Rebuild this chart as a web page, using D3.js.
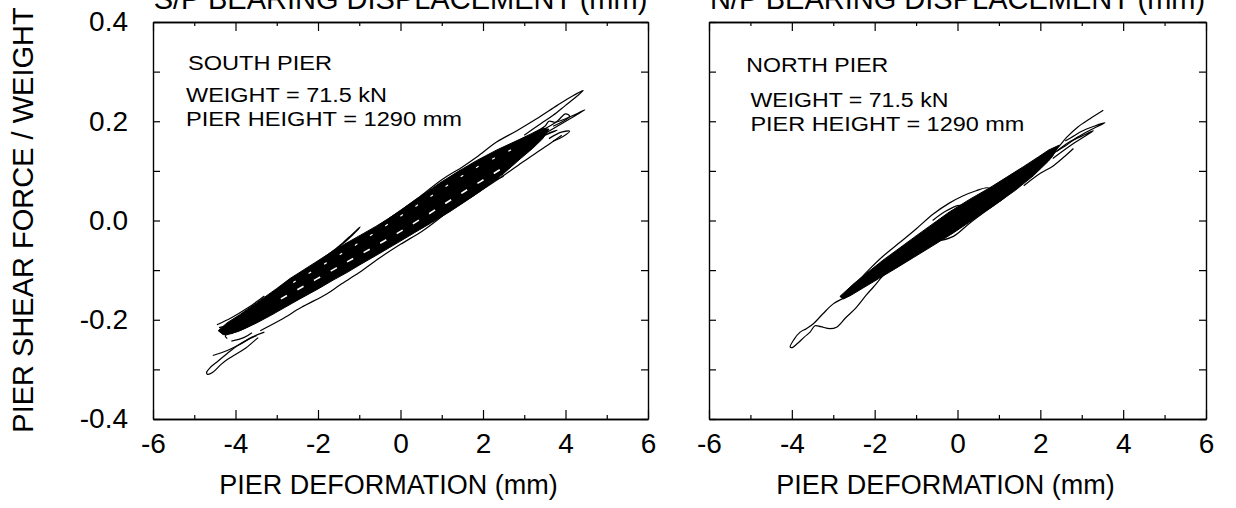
<!DOCTYPE html>
<html><head><meta charset="utf-8">
<script src="https://cdn.jsdelivr.net/npm/d3@7"></script>
<style>
body{margin:0;background:#fff}
svg{display:block}
text{font-family:"Liberation Sans",Arial,Helvetica,sans-serif;fill:#000}
</style>
</head><body>
<svg id="c" width="1236" height="508"></svg>
<script>
// ---------- texts & ticks ----------
const xMajorTicks = [-6,-4,-2,0,2,4,6];
const xTickLabels = ["-6","-4","-2","0","2","4","6"];
const xMinorTicks = [-5,-3,-1,1,3,5];
const yTicks = [-0.4,-0.3,-0.2,-0.1,0.0,0.1,0.2,0.3,0.4];
const yLabelTicks = [-0.4,-0.2,0.0,0.2,0.4];
const yTickLabels = ["-0.4","-0.2","0.0","0.2","0.4"];
const topTitles = ["S/P BEARING DISPLACEMENT (mm)","N/P BEARING DISPLACEMENT (mm)"];
const pierNames = ["SOUTH PIER","NORTH PIER"];
const weightLabel = "WEIGHT = 71.5 kN";
const heightLabel = "PIER HEIGHT = 1290 mm";
const xLabel = "PIER DEFORMATION (mm)";
const yLabel = "PIER SHEAR FORCE / WEIGHT";

// ---------- SOUTH PIER (deformation mm, shear/weight) ----------
const southCore = [
 [-4.42,-0.222],[-4.2,-0.206],[-3.9,-0.19],[-3.49,-0.166],[-3.0,-0.137],[-2.68,-0.117],
 [-2.36,-0.1],[-2.0,-0.081],[-1.63,-0.061],[-1.3,-0.045],[-0.98,-0.03],[-0.6,-0.012],
 [-0.33,0.002],[0.0,0.02],[0.31,0.039],[0.65,0.058],[0.96,0.076],[1.4,0.099],[1.85,0.121],
 [2.33,0.142],[2.9,0.164],[3.2,0.176],[3.45,0.186],[3.6,0.184],
 [3.45,0.165],[3.2,0.145],[2.9,0.124],[2.49,0.094],[2.25,0.078],[1.9,0.057],[1.6,0.04],
 [1.2,0.018],[0.72,-0.006],[0.35,-0.024],[-0.01,-0.042],[-0.5,-0.066],[-0.98,-0.089],
 [-1.3,-0.105],[-1.63,-0.12],[-2.0,-0.138],[-2.44,-0.158],[-2.8,-0.175],[-3.16,-0.192],
 [-3.5,-0.207],[-3.81,-0.219],[-4.1,-0.228],[-4.3,-0.23]
];
const southLoops = [
 [[-4.32,-0.218],[-3.8,-0.19],[-3.0,-0.145],[-2.2,-0.1],[-1.4,-0.058],[-0.6,-0.015],[0.0,0.02],
  [0.47,0.048],[1.0,0.082],[1.5,0.108],[1.85,0.128],[2.33,0.158],[2.8,0.18],[3.3,0.205],
  [3.8,0.232],[4.15,0.25],[4.43,0.262],[4.3,0.252],[4.0,0.232],[3.7,0.212],[3.4,0.195],[3.0,0.172]],
 [[3.0,0.15],[3.4,0.17],[3.8,0.19],[4.15,0.207],[4.47,0.223],[4.3,0.216],[4.0,0.205],
  [3.75,0.198],[3.6,0.2],[3.5,0.19],[3.2,0.175]],
 [[3.5,0.185],[3.8,0.2],[4.0,0.215],[4.1,0.21],[3.9,0.198],[3.7,0.19]],
 [[3.6,0.165],[3.9,0.178],[4.1,0.18],[3.95,0.17],[3.7,0.16]],
 [[-3.4,-0.222],[-2.9,-0.2],[-2.4,-0.175],[-1.79,-0.148],[-1.47,-0.13],[-1.0,-0.105],
  [-0.5,-0.075],[0.0,-0.048],[0.55,-0.02],[1.2,0.02],[1.8,0.052],[2.49,0.09],[3.0,0.12],
  [3.5,0.148],[3.91,0.172]],
 [[-2.1,-0.09],[-1.71,-0.066],[-1.4,-0.045],[-1.2,-0.03],[-0.98,-0.013],[-1.05,-0.02],
  [-1.3,-0.04],[-1.6,-0.06]],
 [[-3.49,-0.232],[-3.7,-0.24],[-3.95,-0.252],[-4.2,-0.268],[-4.45,-0.285],[-4.62,-0.297],
  [-4.70,-0.306],[-4.68,-0.31],[-4.55,-0.306],[-4.35,-0.29],[-4.2,-0.28],[-4.0,-0.27],
  [-3.75,-0.257],[-3.55,-0.243],[-3.45,-0.236]],
 [[-4.55,-0.272],[-4.2,-0.262],[-3.9,-0.25],[-3.6,-0.235],[-3.3,-0.225]],
 [[-4.4,-0.216],[-4.0,-0.205],[-3.6,-0.18]],
 [[-4.2,-0.238],[-4.25,-0.232],[-3.9,-0.222],[-3.5,-0.205]],
 [[-4.1,-0.243],[-3.8,-0.236],[-3.6,-0.226]],
 [[-4.45,-0.21],[-4.1,-0.196],[-3.7,-0.176],[-3.3,-0.152]],
 [[2.0,0.075],[2.3,0.082],[2.5,0.09],[2.35,0.095],[2.1,0.088]],
 [[2.6,0.13],[3.0,0.15],[3.4,0.168],[3.8,0.182],[3.6,0.176],[3.2,0.158],[2.8,0.138]]
];
const southGaps = [
 [[-2.9,-0.158],[-1.5,-0.093],[0,-0.022],[1.5,0.056],[2.6,0.112]],
 [[-2.6,-0.125],[-1.2,-0.055],[0.3,0.025],[1.8,0.105],[3.0,0.155]]
];

// ---------- NORTH PIER ----------
const northCore = [
 [-2.84,-0.153],[-2.5,-0.127],[-2.19,-0.106],[-1.8,-0.08],[-1.39,-0.055],[-1.0,-0.031],
 [-0.6,-0.007],[-0.2,0.017],[0.3,0.043],[0.78,0.066],[1.2,0.088],[1.6,0.109],[1.95,0.128],
 [2.2,0.142],[2.46,0.152],
 [2.3,0.13],[2.2,0.12],[1.83,0.09],[1.4,0.061],[0.86,0.029],[0.4,0.003],[-0.1,-0.025],
 [-0.6,-0.051],[-1.07,-0.075],[-1.5,-0.097],[-1.9,-0.117],[-2.3,-0.137],[-2.6,-0.152],[-2.76,-0.158]
];
const northLoops = [
 [[-2.6,-0.14],[-2.113,-0.097],[-1.8,-0.072],[-1.389,-0.044],[-1.0,-0.017],[-0.585,0.013],
  [-0.2,0.035],[0.139,0.05],[0.45,0.06],[0.704,0.066],[0.86,0.064],[1.0,0.062]],
 [[-0.4,-0.04],[-0.1,-0.032],[0.3,-0.005],[0.7,0.02],[1.1,0.044],[1.3,0.058]],
 [[-2.7,-0.155],[-3.0,-0.168],[-3.25,-0.188],[-3.48,-0.208],[-3.65,-0.218],[-3.8,-0.225],
  [-3.95,-0.24],[-4.04,-0.255],[-3.99,-0.256],[-3.88,-0.249],[-3.7,-0.235],[-3.56,-0.225],
  [-3.44,-0.212],[-3.3,-0.214],[-3.08,-0.218],[-2.92,-0.215],[-2.7,-0.196],[-2.44,-0.175],
  [-2.2,-0.15],[-2.03,-0.134],[-1.75,-0.107],[-1.5,-0.09]],
 [[2.0,0.12],[2.4,0.145],[2.64,0.168],[2.9,0.188],[3.2,0.205],[3.52,0.222]],
 [[2.2,0.13],[2.6,0.15],[2.9,0.168],[3.2,0.182],[3.56,0.197],[3.3,0.19],[3.0,0.18],[2.8,0.17],[2.6,0.16]],
 [[2.3,0.125],[2.8,0.155],[3.28,0.181],[3.0,0.17],[2.7,0.158],[2.4,0.14]],
 [[1.6,0.07],[2.0,0.095],[2.31,0.11],[2.6,0.13],[2.8,0.145]],
 [[-0.6,0.0],[-0.3,0.018],[0.0,0.03],[0.2,0.03],[-0.1,0.015],[-0.4,0.0]]
];

// ---------- drawing ----------
const svg = d3.select("#c");
const FONT = '"Liberation Sans",Arial,Helvetica,sans-serif';
const top0 = 22, bot0 = 419;
const panels = [
  {x0:153, x1:648, core:southCore, loops:southLoops, gaps:southGaps, name:pierNames[0], title:topTitles[0], yLabels:true,
   tx:[-5.15,-5.2,-5.2], ty:[0.304,0.238,0.191], tl:[144,201,276]},
  {x0:709, x1:1206, core:northCore, loops:northLoops, gaps:[], name:pierNames[1], title:topTitles[1], yLabels:false,
   tx:[-5.1,-5.0,-5.0], ty:[0.300,0.228,0.180], tl:[142,198,274]}
];

panels.forEach(p => {
  const x = d3.scaleLinear().domain([-6,6]).range([p.x0,p.x1]);
  const y = d3.scaleLinear().domain([-0.4,0.4]).range([bot0,top0]);
  const g = svg.append("g");

  const styleAxis = sel => {
    sel.attr("font-family", FONT).attr("font-size", 28);
    sel.selectAll("path.domain").attr("stroke","#000").attr("stroke-width",1.4);
    sel.selectAll(".tick line").attr("stroke","#000").attr("stroke-width",1.2);
    sel.selectAll(".tick text").attr("fill","#000");
  };

  g.append("g").attr("transform",`translate(0,${bot0})`)
    .call(d3.axisBottom(x).tickValues(xMajorTicks).tickSizeInner(-9).tickSizeOuter(0).tickPadding(14)
      .tickFormat((d,i)=>xTickLabels[i]))
    .call(styleAxis);
  g.append("g").attr("transform",`translate(0,${bot0})`)
    .call(d3.axisBottom(x).tickValues(xMinorTicks).tickSizeInner(-4).tickSizeOuter(0).tickFormat(""))
    .call(styleAxis);
  g.append("g").attr("transform",`translate(0,${top0})`)
    .call(d3.axisTop(x).tickValues(xMajorTicks).tickSizeInner(-9).tickSizeOuter(0).tickFormat(""))
    .call(styleAxis);
  g.append("g").attr("transform",`translate(0,${top0})`)
    .call(d3.axisTop(x).tickValues(xMinorTicks).tickSizeInner(-4).tickSizeOuter(0).tickFormat(""))
    .call(styleAxis);
  g.append("g").attr("transform",`translate(${p.x0},0)`)
    .call(d3.axisLeft(y).tickValues(yTicks).tickSizeInner(-7).tickSizeOuter(0).tickFormat(""))
    .call(styleAxis);
  if (p.yLabels) {
    g.append("g").attr("transform",`translate(${p.x0},0)`)
      .call(d3.axisLeft(y).tickValues(yLabelTicks).tickSizeInner(0).tickSizeOuter(0).tickPadding(25)
        .tickFormat((d,i)=>yTickLabels[i]))
      .call(styleAxis)
      .call(s=>s.select("path.domain").remove());
  }
  g.append("g").attr("transform",`translate(${p.x1},0)`)
    .call(d3.axisRight(y).tickValues(yTicks).tickSizeInner(-7).tickSizeOuter(0).tickFormat(""))
    .call(styleAxis);

  const clipId = "clip"+p.x0;
  svg.append("clipPath").attr("id",clipId).append("rect")
    .attr("x",p.x0).attr("y",top0).attr("width",p.x1-p.x0).attr("height",bot0-top0);
  const dg = g.append("g").attr("clip-path",`url(#${clipId})`);
  const area = d3.line().x(d=>x(d[0])).y(d=>y(d[1])).curve(d3.curveLinearClosed);
  const line = d3.line().x(d=>x(d[0])).y(d=>y(d[1])).curve(d3.curveCatmullRom.alpha(0.5));
  dg.append("path").attr("d",area(p.core)).attr("fill","#000").attr("stroke","#000")
    .attr("stroke-width",1).attr("stroke-linejoin","round");
  dg.selectAll("path.loop").data(p.loops).join("path").attr("class","loop")
    .attr("d",line).attr("fill","none").attr("stroke","#000").attr("stroke-width",1.2)
    .attr("stroke-linejoin","round");
  dg.selectAll("path.gap").data(p.gaps).join("path").attr("class","gap")
    .attr("d",line).attr("fill","none").attr("stroke","#fff")
    .attr("stroke-width",(d,i)=>i===0?1.6:1.2).attr("stroke-dasharray",(d,i)=>i===0?"7,12":"3,15");

  const texts = [p.name, weightLabel, heightLabel];
  texts.forEach((t,i)=>{
    g.append("text").attr("x",x(p.tx[i])).attr("y",y(p.ty[i])).attr("font-size",20)
      .attr("textLength",p.tl[i]).attr("lengthAdjust","spacingAndGlyphs").text(t);
  });

  g.append("text").attr("x",(p.x0+p.x1)/2).attr("y",9).attr("text-anchor","middle")
    .attr("font-size",29).text(p.title);
  g.append("text").attr("x",(p.x0+p.x1)/2-12).attr("y",494).attr("text-anchor","middle")
    .attr("font-size",27).text(xLabel);
});

svg.append("text").attr("transform","translate(33,220) rotate(-90)").attr("text-anchor","middle")
  .attr("font-size",29).text(yLabel);
</script>
</body></html>
